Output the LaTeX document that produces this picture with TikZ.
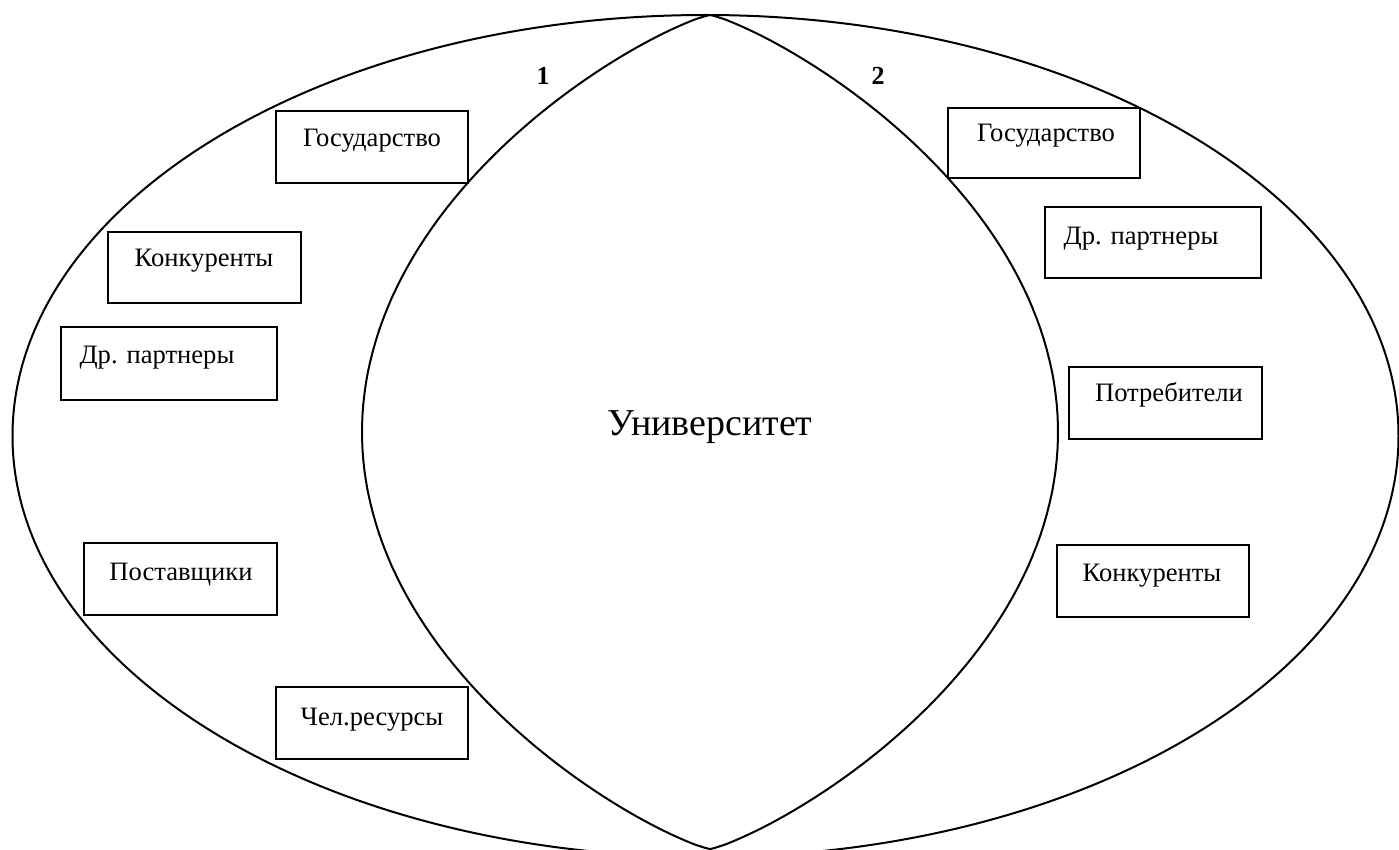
\documentclass[tikz,border=0pt]{standalone}
\usepackage{fontspec}
\setmainfont{Liberation Serif}
\begin{document}
\begin{tikzpicture}[x=0.5pt,y=-0.5pt,
  line width=1pt,
  box/.style={draw=black, line width=1pt, fill=white, rectangle, inner sep=0pt},
  lbl/.style={font=\fontsize{13.3}{16}\selectfont, inner sep=0pt},
  num/.style={font=\fontsize{13}{15}\selectfont\bfseries, inner sep=0pt},
  big/.style={font=\fontsize{19}{23}\selectfont, inner sep=0pt}]
\useasboundingbox (0,0) rectangle (1399,850);
% outer ellipse
\draw (705.5,436) ellipse [x radius=693, y radius=421];
% lens
\coordinate (top) at (710,15);
\coordinate (bot) at (710,849);
\draw (top) -- plot[domain=-89.5:89.5, samples=120] ({710 - 348*pow(cos(\x),1.64)}, {432+417*sin(\x)}) -- (bot);
\draw (top) -- plot[domain=-89.5:89.5, samples=120] ({710 + 348*pow(cos(\x),1.64)}, {432+417*sin(\x)}) -- (bot);
% labels
\node[num] (n1) at (543,76) {1};
\node[num] (n2) at (878,76) {2};
\node[big] (uni) at (710,427) {Университет};
% left boxes
\node[box, minimum width=96pt, minimum height=36pt] (lg) at (372,147) {};
\node[lbl] (lgt) at (372,141) {Государство};
\node[box, minimum width=96.5pt, minimum height=35.5pt] (lk) at (204.5,267.5) {};
\node[lbl] (lkt) at (204,261) {Конкуренты};
\node[box, minimum width=108pt, minimum height=36.5pt] (lp) at (169,363.5) {};
\node[lbl] (lpt) at (157,358) {Др. партнеры};
\node[box, minimum width=96.5pt, minimum height=36pt] (ls) at (180.5,579) {};
\node[lbl] (lst) at (181,575) {Поставщики};
\node[box, minimum width=96pt, minimum height=36pt] (lh) at (372,723) {};
\node[lbl] (lht) at (372,720) {Чел.ресурсы};
% right boxes
\node[box, minimum width=96pt, minimum height=35pt] (rg) at (1044,143) {};
\node[lbl] (rgt) at (1046,136) {Государство};
\node[box, minimum width=108pt, minimum height=35.5pt] (rp) at (1153,242.5) {};
\node[lbl] (rpt) at (1141,239) {Др. партнеры};
\node[box, minimum width=96.5pt, minimum height=36pt] (rc) at (1165.5,403) {};
\node[lbl] (rct) at (1169,395) {Потребители};
\node[box, minimum width=96pt, minimum height=36pt] (rk) at (1153,581) {};
\node[lbl] (rkt) at (1152,576) {Конкуренты};
\end{tikzpicture}
\end{document}
